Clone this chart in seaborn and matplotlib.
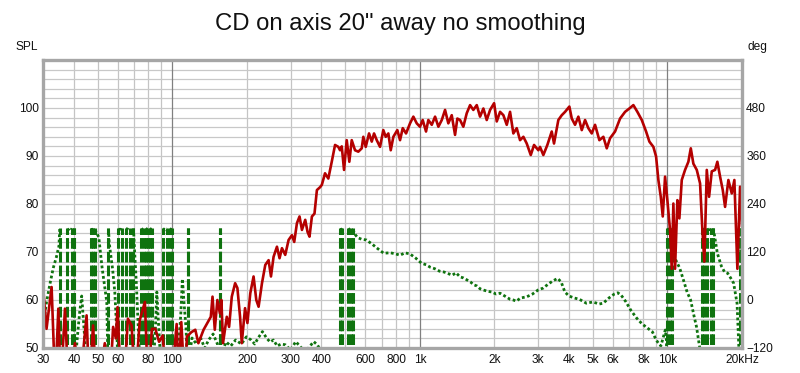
import matplotlib
matplotlib.use("Agg")
import matplotlib.pyplot as plt
import numpy as np
import pandas as pd
import seaborn as sns
from matplotlib.ticker import FixedLocator, MultipleLocator, NullFormatter

# SPL curve (Hz, dB); values under 50 dB fall off the chart
spl_freq = [30.1, 31.0, 32.5, 33.6, 34.6, 35.4, 36.8, 38.0, 39.3, 40.4, 42.3, 45.0, 46.1, 47.8,
            49.3, 50.9, 53.3, 55.8, 57.6, 59.1, 60.0, 61.5, 63.6, 66.1, 68.4, 70.7, 73.8, 77.4,
            79.7, 82.6, 85.3, 88.3, 91.4, 94.6, 99.7, 104, 106, 108.6, 112.2, 114.4, 119.3,
            123.7, 127.3, 133.6, 142.9, 145.2, 148.3, 151.9, 155.6, 157.7, 160.1, 165.8, 169.4,
            173.7, 179.2, 183, 187.6, 190.6, 196.5, 200.9, 206.3, 212.7, 218.2, 222.9, 230,
            237.2, 244.6, 250.1, 256.2, 264.4, 270.9, 277, 285.6, 294.6, 304, 310.5, 318.4,
            326.2, 333.6, 344, 351.4, 357.9, 366, 374.9, 383.4, 394.8, 401.5, 413.5, 426.4,
            440.2, 453.9, 468, 475.5, 483.1, 493.5, 506, 518.4, 530.1, 546.6, 563.6, 581.8,
            590.5, 603.8, 622.7, 638.6, 652.4, 669, 689.8, 711.2, 727.3, 745.3, 762, 780.8,
            810.3, 830.9, 852, 878.7, 911.9, 940.4, 970.5, 1000, 1026, 1058, 1081, 1116, 1151,
            1187, 1225, 1263, 1302, 1344, 1386, 1416, 1452, 1497, 1545, 1594, 1643, 1696, 1749,
            1804, 1861, 1920, 1993, 2043, 2107, 2173, 2242, 2312, 2384, 2460, 2537, 2617, 2700,
            2803, 2890, 3008, 3055, 3151, 3271, 3407, 3480, 3623, 3740, 3857, 4014, 4105, 4232,
            4364, 4505, 4645, 4789, 4944, 5098, 5306, 5507, 5684, 5861, 6140, 6433, 6740, 7015,
            7281, 7557, 7873, 8195, 8450, 8770, 8993, 9187, 9395, 9570, 9777, 9989, 10240,
            10406, 10563, 10730, 10962, 11169, 11420, 11776, 12145, 12420, 12723, 13131, 13540,
            13833, 14093, 14412, 14723, 15097, 15570, 15903, 16311, 16725, 17087, 17620, 18184,
            18629, 19158, 19645, 20000]
spl_db = [62, 54, 62.7, 42, 58.2, 42, 58.2, 42, 47, 51, 42, 56.8, 42, 54.7,
          42, 44, 51, 42, 54.4, 52, 58.5, 46, 42, 56.1, 54.7, 42, 55.8, 59.6,
          42, 54, 54, 51.3, 52.6, 42, 44, 55, 44, 55.4, 42, 52.4, 53.3,
          53.8, 51, 53.8, 56.5, 60.7, 53.8, 60, 57.2, 60, 51, 56.5, 54.4,
          60.7, 63.5, 62.5, 56.5, 51, 58.3, 55.2, 61.4, 64.9, 60, 58.6, 63.5,
          67.3, 68.3, 64.9, 69, 71.1, 68.7, 70.8, 69.4, 72.5, 73.5, 72.1, 76,
          77.4, 74.6, 76.7, 74.2, 73.2, 77.4, 78, 82.9, 83.5, 84, 86.4, 85.3,
          88.8, 92.3, 91.9, 91.2, 92, 87.1, 93.3, 88.8, 93.3, 91.2, 90.9, 91.6,
          94, 91.9, 94.7, 93, 94.7, 93.3, 91.9, 95.4, 94, 94.7, 91.2, 94,
          95.4, 93.3, 95.8, 94.7, 96.8, 98.2, 96.8, 96.1, 97.5, 95.1, 97.5, 96.5, 98.2,
          96.1, 97.5, 99.6, 96.8, 98.5, 94.4, 97.8, 97.5, 96.1, 98.9, 100.6, 99.6, 100.6, 98.2,
          99.9, 97.5, 99.6, 101, 97.2, 99.2, 98.5, 96.5, 99.2, 94.7, 95.8, 93.3, 94, 92.6,
          90.2, 92.3, 91.2, 91.9, 90.2, 92.3, 95.1, 92.6, 97.5, 98.5, 99.2, 100.3, 97.8, 96.5,
          98.2, 95.4, 97.5, 95.8, 94.7, 96.5, 93.3, 94, 91.6, 93.7, 95.1, 97.8, 99.2, 99.9,
          100.6, 99.2, 97.5, 95.1, 93, 91.9, 89.9, 85, 81.5, 77.4, 85.7, 80.8, 74.6,
          66.5, 80.1, 66.5, 80.8, 77, 85, 87.1, 88.8, 91.6, 88.4, 87.1, 84.3,
          74.6, 68, 87.1, 81.5, 86.8, 87.1, 88.8, 85.7, 82.9, 79.4, 85, 82.2,
          85, 66.5, 83.6, 75.3]

# phase curve (Hz, deg), wrapped to +-180 like the source plot
phase_freq = [30.3, 31.0, 32.0, 33.0, 34.0, 34.8, 35.05, 35.2, 36.5, 37.4, 37.6, 38.6, 39.3,
              39.5, 39.9, 40.1, 40.3, 41.2, 42.2, 43.0, 43.8, 44.5, 45.6, 46.7, 46.9, 47.6,
              47.8, 48.0, 48.3, 48.5, 48.7, 50.4, 52.0, 54.3, 54.7, 55.0, 55.2, 55.5, 56.4,
              57.3, 58.5, 59.5, 60.3, 60.5, 60.6, 61.5, 62.4, 62.6, 63.8, 64.7, 64.9, 66.5,
              67.4, 67.6, 68.6, 69.4, 69.6, 70.5, 71.5, 72.9, 73.8, 74.8, 75.0, 75.8, 76.6,
              76.8, 77.4, 78.0, 78.2, 78.8, 79.4, 79.6, 80.3, 81.0, 81.2, 81.8, 82.4, 82.6,
              84.0, 85.5, 86.5, 87.5, 89.0, 90.5, 91.4, 91.6, 93.0, 95.4, 95.6, 96.6, 97.4,
              97.6, 98.8, 99.8, 100.0, 103, 106, 108, 109.7, 111.5, 113.5, 114.8, 115.3,
              115.5, 115.7, 117, 120, 125, 130, 135, 140, 146, 152, 155.0, 155.4, 155.6,
              155.8, 158, 165, 172, 180, 190, 199, 208, 215, 222, 231, 240, 248, 256, 265,
              275, 286, 300, 315, 330, 345, 360, 372, 385, 400, 420, 450, 476, 478, 482,
              485, 487, 500, 512, 514, 520, 525, 527, 532, 535, 537, 545, 560, 580, 608,
              640, 670, 713, 760, 800, 831, 870, 912, 960, 1014, 1060, 1100, 1150, 1200,
              1250, 1300, 1350, 1400, 1450, 1500, 1550, 1600, 1650, 1700, 1750, 1804, 1870,
              1950, 2030, 2107, 2200, 2310, 2384, 2450, 2550, 2700, 2850, 3000, 3150, 3300,
              3450, 3600, 3720, 3850, 4000, 4200, 4400, 4700, 5000, 5300, 5500, 5800, 6100,
              6300, 6500, 6800, 7100, 7500, 7900, 8300, 8700, 9000, 9200, 9400, 9600, 9800,
              9900, 9950, 9990, 10100, 10200, 10250, 10350, 10450, 10500, 10600, 10900,
              11200, 11600, 12000, 12400, 12800, 13100, 13500, 13800, 13850, 13950, 14050,
              14100, 14250, 14400, 14450, 14700, 15000, 15050, 15150, 15250, 15300, 15500,
              15900, 16500, 17000, 17500, 18000, 18500, 19100, 19400, 19550, 19600, 19700,
              19850, 20000]
phase_deg = [-50, -5, 40, 80, 108, 135, 178, -178, -168, -178, 178, 172, 179,
             -179, -176, 179, -179, -100, -30, 10, -60, -120, -165, -179, 179, 172,
             179, -179, -175, -179, 176, 157, 80, -5, -110, -178, 178, 145, 110,
             78, 20, -70, -160, -179, 179, 172, 179, -179, -172, -179, 179, 176,
             179, -179, -170, -179, 179, 110, 40, -80, -150, -179, 179, 176, 179,
             -179, -176, -179, 179, 177, 179, -179, -175, -179, 179, 177, 179, -179,
             -150, -60, 20, -40, -120, -170, -179, 179, 175, 179, -179, -176, -179,
             179, 176, 179, -179, -140, -110, -40, 53, -10, -70, -150, -179,
             179, -178, -140, -95, -110, -95, -120, -100, -85, -110, -170, -179, 179,
             -179, -130, -105, -115, -100, -110, -92, -100, -110, -95, -79, -95, -105, -100, -115,
             -110, -112, -125, -104, -118, -130, -115, -104, -112, -130, -150, -170, -179, 179, 176,
             179, -179, -174, -179, 179, 176, 179, -179, -176, -179, 176, 165, 156, 152, 150,
             140, 130, 117, 118, 115, 112, 118, 115, 105, 92, 88, 82, 78, 72,
             70, 66, 62, 68, 58, 55, 50, 45, 38, 35, 28, 25, 22,
             20, 15, 17, 10, 2, 0, -3, 5, 8, 15, 25, 30, 40,
             48, 54, 45, 20, 10, 5, 2, -8, -5, -10, -8, 5, 15,
             18, 12, -5, -25, -45, -60, -70, -80, -100, -108, -115, -95, -75,
             -100, -179, 179, 176, 179, -179, -176, -179, 179, 110, 95,
             80, 50, 20, 0, -40, -67, -120, -179, 179, 176, 179,
             -179, -176, -179, 179, 170, 179, -179, -176, -179, 179, 160,
             117, 85, 70, 67, 55, 42, -8, -110, -179, 179, 140,
             90, 60]

x_ticks = [30, 40, 50, 60, 80, 100, 200, 300, 400, 600, 800, 1000, 2000, 3000, 4000,
           5000, 6000, 8000, 10000, 20000]
x_tick_labels = ["30", "40", "50", "60", "80", "100", "200", "300", "400", "600", "800",
                 "1k", "2k", "3k", "4k", "5k", "6k", "8k", "10k", "20kHz"]
grid_major = [100, 1000, 10000]
grid_minor = [40, 50, 60, 70, 80, 90, 200, 300, 400, 500, 600, 700, 800, 900,
              2000, 3000, 4000, 5000, 6000, 7000, 8000, 9000]

RED = "#b40000"
GREEN = "#0f730f"

sns.set_theme(style="white")
plt.rcParams["font.family"] = ["Liberation Sans", "DejaVu Sans"]

fig = plt.figure(figsize=(8, 3.73), dpi=100)
fig.patch.set_facecolor("white")
ax = fig.add_axes([43 / 800, 25 / 373, 699 / 800, 288 / 373])
ax2 = ax.twinx()
ax.set_zorder(ax2.get_zorder() + 1)
ax.patch.set_visible(False)
ax2.patch.set_visible(True)
ax2.set_facecolor("white")

ax.set_xscale("log")
ax.set_xlim(30, 20000)
ax.set_ylim(50, 110)
ax2.set_ylim(-120, 600)

# grid lives on the phase axes (underneath): 2 dB steps == 24 deg steps
ax2.yaxis.set_major_locator(FixedLocator([-120, 0, 120, 240, 360, 480]))
ax2.yaxis.set_minor_locator(MultipleLocator(24))
ax2.grid(which="both", axis="y", color="#c8c8c8", lw=0.9)
ax2.grid(False, axis="x")
for f in grid_minor:
    ax2.axvline(f, color="#c4c4c4", lw=0.9, zorder=0.5)
for f in grid_major:
    ax2.axvline(f, color="#808080", lw=0.9, zorder=0.6)

# phase: split at the wraps, join wraps with dashed verticals
ph = np.array(phase_deg, dtype=float)
fr = np.array(phase_freq, dtype=float)
jumps = np.where(np.abs(np.diff(ph)) > 180)[0]
seg = np.zeros(len(ph), dtype=int)
seg[jumps + 1] = 1
phase_df = pd.DataFrame({"freq": fr, "deg": ph, "seg": np.cumsum(seg)})
sns.lineplot(data=phase_df, x="freq", y="deg", units="seg", estimator=None, sort=False,
             color=GREEN, lw=2.0, linestyle=(0, (1, 0.9)), ax=ax2)
wrap_f = np.sqrt(fr[jumps] * fr[jumps + 1])
ax2.vlines(wrap_f, -180, 180, colors=GREEN, lw=2.2, linestyles=(0, (3.5, 1)))

# SPL on top
spl_df = pd.DataFrame({"freq": spl_freq, "spl": spl_db})
sns.lineplot(data=spl_df, x="freq", y="spl", estimator=None, sort=False,
             color=RED, lw=1.9, ax=ax)

ax.set_xticks(x_ticks)
ax.set_xticklabels(x_tick_labels)
ax.xaxis.set_minor_formatter(NullFormatter())
ax.set_yticks([50, 60, 70, 80, 90, 100])
ax.set_xlabel("")
ax.set_ylabel("")
ax2.set_ylabel("")
ax.tick_params(axis="both", which="both", length=0, labelsize=8.6, colors="#111111", pad=3)
ax2.tick_params(axis="y", which="both", length=0, labelsize=8.6, colors="#111111", pad=3)
ax2.tick_params(axis="x", which="both", length=0)
ax.tick_params(axis="x", pad=4)

for s in ax.spines.values():
    s.set_color("#a6a6a6")
    s.set_linewidth(2.4)
for s in ax2.spines.values():
    s.set_visible(False)

fig.text(0.5, 1 - 24 / 373, "CD on axis 20\" away no smoothing", ha="center", va="center",
         fontsize=17.2, color="#111111")
fig.text(16 / 800, 1 - 47 / 373, "SPL", ha="left", va="center", fontsize=8.6, color="#111111")
fig.text(748 / 800, 1 - 47 / 373, "deg", ha="left", va="center", fontsize=8.6, color="#111111")

fig.savefig("out.png", dpi=100, facecolor="white")
